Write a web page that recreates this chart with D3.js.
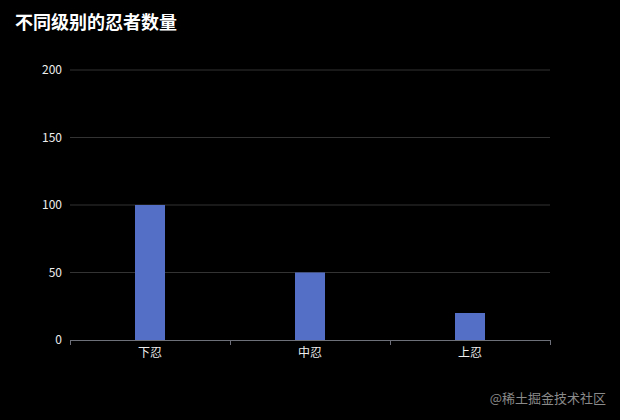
<!DOCTYPE html>
<html>
<head>
<meta charset="utf-8">
<script src="https://cdn.jsdelivr.net/npm/d3@7/dist/d3.min.js"></script>
<style>
  html, body { margin: 0; padding: 0; background: #000; }
  svg { display: block; font-family: "Microsoft YaHei", "Noto Sans CJK SC", sans-serif; }
</style>
</head>
<body>
<svg id="chart" width="620" height="420"></svg>
<script>
const title = "不同级别的忍者数量";
const categories = ["下忍", "中忍", "上忍"];
const counts = [100, 50, 20];
const yTicks = [0, 50, 100, 150, 200];
const watermark = "@稀土掘金技术社区";

const svg = d3.select("#chart");
const margin = { top: 70, right: 70, bottom: 80, left: 70 };
const width = 620 - margin.left - margin.right;
const height = 420 - margin.top - margin.bottom;

svg.append("rect")
  .attr("width", 620)
  .attr("height", 420)
  .style("fill", "#000");

svg.append("text")
  .attr("x", 15)
  .attr("y", 29)
  .text(title)
  .style("fill", "#fff")
  .style("font-size", "18px")
  .style("font-weight", "bold");

const g = svg.append("g")
  .attr("transform", `translate(${margin.left}, ${margin.top})`);

const x = d3.scaleBand()
  .domain(categories)
  .range([0, width]);

const y = d3.scaleLinear()
  .domain([0, 200])
  .range([height, 0]);

// grid lines
g.append("g")
  .selectAll("line")
  .data(yTicks.filter((d) => d !== 0))
  .enter()
  .append("line")
  .attr("x1", 0)
  .attr("x2", width)
  .attr("y1", (d) => y(d))
  .attr("y2", (d) => y(d))
  .style("stroke", "#333")
  .style("stroke-width", 1);

// y labels
const yAxis = g.append("g")
  .call(d3.axisLeft(y).tickValues(yTicks).tickSize(0).tickPadding(8));
yAxis.select(".domain").remove();
yAxis.selectAll("text")
  .style("fill", "#eee")
  .style("font-size", "12px")
  .style("font-family", "'Microsoft YaHei', 'Noto Sans CJK SC', sans-serif");

// bars
const barWidth = 30;
g.append("g")
  .selectAll("rect")
  .data(counts)
  .enter()
  .append("rect")
  .attr("x", (d, i) => x(categories[i]) + x.bandwidth() / 2 - barWidth / 2)
  .attr("y", (d) => y(d))
  .attr("width", barWidth)
  .attr("height", (d) => height - y(d))
  .style("fill", "#5470c6");

// x axis
const xAxis = g.append("g")
  .attr("transform", `translate(0, ${height})`)
  .call(d3.axisBottom(x).tickSize(0).tickPadding(8));
xAxis.select(".domain")
  .attr("d", `M0.5,0.5H${width + 0.5}`)
  .style("stroke", "#6e7079");
xAxis.selectAll("text")
  .style("fill", "#eee")
  .style("font-size", "12px")
  .style("font-family", "'Microsoft YaHei', 'Noto Sans CJK SC', sans-serif");

// boundary ticks between categories
const bounds = categories.map((c) => x(c)).concat([width]);
xAxis.append("g")
  .selectAll("line")
  .data(bounds)
  .enter()
  .append("line")
  .attr("x1", (d) => d + 0.5)
  .attr("x2", (d) => d + 0.5)
  .attr("y1", 0)
  .attr("y2", 5)
  .style("stroke", "#6e7079");

svg.append("text")
  .attr("x", 606)
  .attr("y", 403)
  .attr("text-anchor", "end")
  .text(watermark)
  .style("fill", "#8a8a8a")
  .style("font-size", "13px");
</script>
</body>
</html>
